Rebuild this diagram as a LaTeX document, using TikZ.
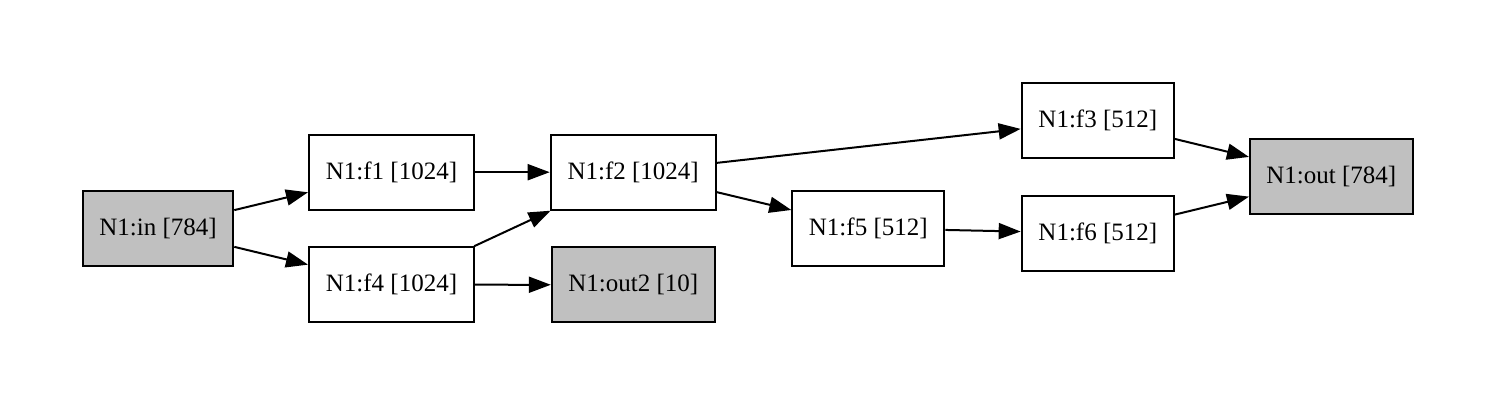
\documentclass[tikz,border=0pt]{standalone}
\usepackage{fontspec}
\setmainfont{Liberation Serif}
\usetikzlibrary{arrows.meta}
\definecolor{nodegray}{RGB}{192,192,192}
\begin{document}
\begin{tikzpicture}[x=1pt,y=-1pt,
  box/.style={draw=black, line width=2pt, fill=white, rectangle, inner sep=0pt,
    minimum height=75pt, font=\fontsize{25}{29}\selectfont},
  graybox/.style={box, fill=nodegray},
  conn/.style={line width=2pt, -{Triangle[length=22pt,width=16pt]}}]
\useasboundingbox (0,0) rectangle (1495,406);
\fill[white] (0,0) rectangle (1495,406);
\node[graybox, minimum width=150.6pt] (in) at (158,228.5) {N1:in [784]};
\node[box, minimum width=165pt] (f1) at (391.5,172.2) {N1:f1 [1024]};
\node[box, minimum width=165pt] (f4) at (391.5,284.7) {N1:f4 [1024]};
\node[box, minimum width=165pt] (f2) at (633.2,172.2) {N1:f2 [1024]};
\node[graybox, minimum width=163pt] (out2) at (633.3,284.8) {N1:out2 [10]};
\node[box, minimum width=152pt] (f5) at (868.3,228.3) {N1:f5 [512]};
\node[box, minimum width=152.3pt] (f3) at (1097.8,120.3) {N1:f3 [512]};
\node[box, minimum width=152.3pt] (f6) at (1097.8,233.2) {N1:f6 [512]};
\node[graybox, minimum width=162.7pt] (out) at (1331.3,176.8) {N1:out [784]};
\draw[conn] (in) -- (f1);
\draw[conn] (in) -- (f4);
\draw[conn] (f1) -- (f2);
\draw[conn] (f4) -- (f2);
\draw[conn] (f4) -- (out2);
\draw[conn] (f2) -- (f3);
\draw[conn] (f2) -- (f5);
\draw[conn] (f5) -- (f6);
\draw[conn] (f3) -- (out);
\draw[conn] (f6) -- (out);
\end{tikzpicture}
\end{document}
